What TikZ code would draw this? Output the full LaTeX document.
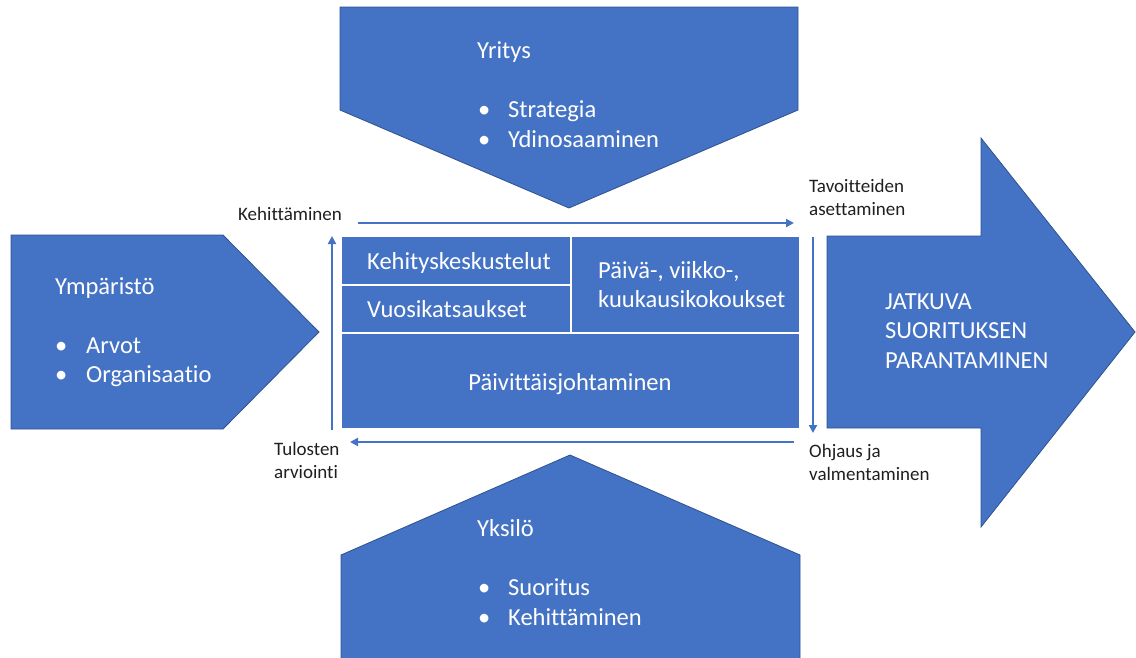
\documentclass[tikz,border=0pt]{standalone}
\usepackage{fontspec}
\setmainfont{Carlito}[Ligatures=NoCommon]
\usetikzlibrary{arrows.meta}
\definecolor{boxblue}{HTML}{4472C4}
\definecolor{edgeblue}{HTML}{2F528F}
\definecolor{labelgray}{HTML}{1F1F1F}
\tikzset{
  panel/.style={fill=boxblue, draw=edgeblue, line width=0.8pt, line join=miter},
  cell/.style={fill=boxblue, draw=white, line width=1.6pt},
  big/.style={font=\fontsize{24.5}{29.4}\selectfont, text=white, inner sep=0pt},
  small/.style={font=\fontsize{19}{23}\selectfont, text=labelgray, inner sep=0pt},
  flow/.style={draw=boxblue, line width=2pt, -{Triangle[length=8pt,width=8pt]}},
}
\begin{document}
\begin{tikzpicture}[x=1pt, y=-1pt]
\useasboundingbox (0,0) rectangle (1136,657);

% top pentagon (company)
\path[panel] (340,7) -- (798,7) -- (798,110) -- (569,208) -- (340,110) -- cycle;
\node[big, anchor=base west] (yritys) at (477,58) {Yritys};
\node[big, anchor=base west] (b1) at (478,117) {•};
\node[big, anchor=base west] (strategia) at (508,117) {Strategia};
\node[big, anchor=base west] (b2) at (478,147) {•};
\node[big, anchor=base west] (ydin) at (508,147) {Ydinosaaminen};

% left pentagon (environment)
\path[panel] (11,235) -- (223,235) -- (319,332) -- (223,429) -- (11,429) -- cycle;
\node[big, anchor=base west] (ymparisto) at (55,294) {Ympäristö};
\node[big, anchor=base west] (b3) at (55,353) {•};
\node[big, anchor=base west] (arvot) at (86,353) {Arvot};
\node[big, anchor=base west] (b4) at (55,382) {•};
\node[big, anchor=base west] (organisaatio) at (86,382) {Organisaatio};

% bottom pentagon (individual)
\path[panel] (570,455) -- (800,555) -- (800,660) -- (341,660) -- (341,555) -- cycle;
\node[big, anchor=base west] (yksilo) at (477,536) {Yksilö};
\node[big, anchor=base west] (b5) at (478,595) {•};
\node[big, anchor=base west] (suoritus) at (508,595) {Suoritus};
\node[big, anchor=base west] (b6) at (478,625) {•};
\node[big, anchor=base west] (kehittaminen2) at (508,625) {Kehittäminen};

% big right arrow
\path[panel] (827,236) -- (981,236) -- (981,138) -- (1135,332) -- (981,527) -- (981,428) -- (827,428) -- cycle;
\node[big, anchor=base west] (jatkuva) at (885,309) {JATKUVA};
\node[big, anchor=base west] (suorituksen) at (885,338) {SUORITUKSEN};
\node[big, anchor=base west] (parantaminen) at (885,368) {PARANTAMINEN};

% central table
\path[cell] (341,236) rectangle (571,285);
\path[cell] (341,285) rectangle (571,333);
\path[cell] (571,236) rectangle (800,333);
\path[cell] (341,333) rectangle (800,429);
\node[big, anchor=base west] (kehkesk) at (367,269) {Kehityskeskustelut};
\node[big, anchor=base west] (vuosi) at (367,317) {Vuosikatsaukset};
\node[big, anchor=base west] (paiva) at (598,278) {Päivä-, viikko-,};
\node[big, anchor=base west] (kuukausi) at (598,307) {kuukausikokoukset};
\node[big, anchor=base] (paivittais) at (570,390) {Päivittäisjohtaminen};

% cycle arrows around the table
\coordinate (topL) at (358,223);
\coordinate (topR) at (794,223);
\coordinate (rightT) at (813,237);
\coordinate (rightB) at (813,433);
\coordinate (botR) at (794,442);
\coordinate (botL) at (350,442);
\coordinate (leftB) at (332,430);
\coordinate (leftT) at (332,236);
\draw[flow] (topL) -- (topR);
\draw[flow] (rightT) -- (rightB);
\draw[flow] (botR) -- (botL);
\draw[flow] (leftB) -- (leftT);

% cycle labels
\node[small, anchor=base west] (kehittaminen) at (238,220) {Kehittäminen};
\node[small, anchor=base west] (tavoitteiden) at (809,192) {Tavoitteiden};
\node[small, anchor=base west] (asettaminen) at (809,215) {asettaminen};
\node[small, anchor=base west] (ohjaus) at (809,457) {Ohjaus ja};
\node[small, anchor=base west] (valmentaminen) at (809,480) {valmentaminen};
\node[small, anchor=base west] (tulosten) at (274,455) {Tulosten};
\node[small, anchor=base west] (arviointi) at (274,478) {arviointi};
\end{tikzpicture}
\end{document}
